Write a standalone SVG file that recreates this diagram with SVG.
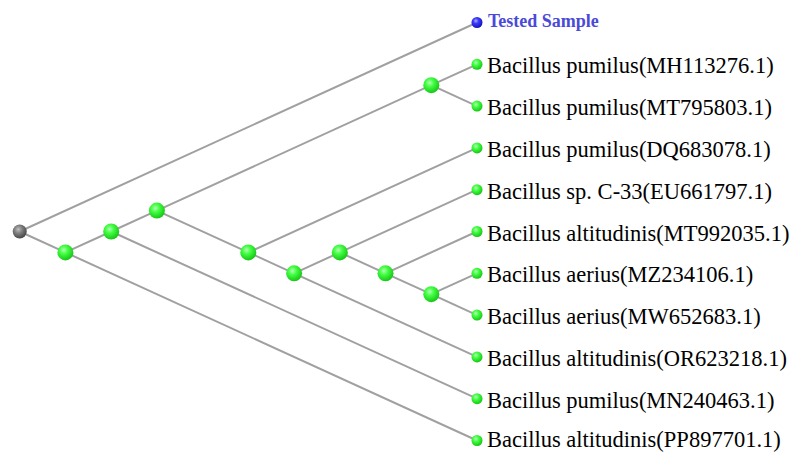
<svg xmlns="http://www.w3.org/2000/svg" width="794" height="452" viewBox="0 0 794 452">
<defs>
<radialGradient id="gG" cx="0.4" cy="0.35" r="0.7">
<stop offset="0" stop-color="#b8ffb8"/>
<stop offset="0.35" stop-color="#44ff44"/>
<stop offset="1" stop-color="#10c010"/>
</radialGradient>
<radialGradient id="gB" cx="0.4" cy="0.35" r="0.7">
<stop offset="0" stop-color="#b0b0ff"/>
<stop offset="0.35" stop-color="#3a3aff"/>
<stop offset="1" stop-color="#1010b0"/>
</radialGradient>
<radialGradient id="gK" cx="0.4" cy="0.35" r="0.7">
<stop offset="0" stop-color="#c0c0c0"/>
<stop offset="0.4" stop-color="#808080"/>
<stop offset="1" stop-color="#404040"/>
</radialGradient>
</defs>
<style>
.e{stroke:#a0a0a0;stroke-width:2;fill:none}
.n{fill:url(#gG)}
.lab{font-family:"Liberation Serif","Times New Roman",serif;font-size:22.5px;fill:#000}
.ts{font-family:"Liberation Serif","Times New Roman",serif;font-size:18px;font-weight:bold;fill:#4a4ad8}
</style>
<rect width="794" height="452" fill="#fff"/>
<g id="connectors">
<line class="e" x1="19.7" y1="231.5" x2="477" y2="22.5"/>
<line class="e" x1="19.7" y1="231.5" x2="65.4" y2="252.4"/>
<line class="e" x1="65.4" y1="252.4" x2="111.2" y2="231.5"/>
<line class="e" x1="65.4" y1="252.4" x2="477" y2="440.5"/>
<line class="e" x1="111.2" y1="231.5" x2="156.9" y2="210.6"/>
<line class="e" x1="111.2" y1="231.5" x2="477" y2="398.7"/>
<line class="e" x1="156.9" y1="210.6" x2="431.3" y2="85.2"/>
<line class="e" x1="156.9" y1="210.6" x2="248.3" y2="252.4"/>
<line class="e" x1="431.3" y1="85.2" x2="477" y2="64.3"/>
<line class="e" x1="431.3" y1="85.2" x2="477" y2="106.1"/>
<line class="e" x1="248.3" y1="252.4" x2="477" y2="147.9"/>
<line class="e" x1="248.3" y1="252.4" x2="294.1" y2="273.3"/>
<line class="e" x1="294.1" y1="273.3" x2="339.8" y2="252.4"/>
<line class="e" x1="294.1" y1="273.3" x2="477" y2="356.9"/>
<line class="e" x1="339.8" y1="252.4" x2="477" y2="189.7"/>
<line class="e" x1="339.8" y1="252.4" x2="385.5" y2="273.3"/>
<line class="e" x1="385.5" y1="273.3" x2="477" y2="231.5"/>
<line class="e" x1="385.5" y1="273.3" x2="431.3" y2="294.2"/>
<line class="e" x1="431.3" y1="294.2" x2="477" y2="273.3"/>
<line class="e" x1="431.3" y1="294.2" x2="477" y2="315.1"/>
</g>
<g id="root"><circle cx="19.7" cy="231.5" r="7" fill="url(#gK)"/></g>
<g id="nA"><circle class="n" cx="65.4" cy="252.4" r="8"/></g>
<g id="nB"><circle class="n" cx="111.2" cy="231.5" r="8"/></g>
<g id="nC"><circle class="n" cx="156.9" cy="210.6" r="8"/></g>
<g id="nI"><circle class="n" cx="431.3" cy="85.2" r="8"/></g>
<g id="nD"><circle class="n" cx="248.3" cy="252.4" r="8"/></g>
<g id="nE"><circle class="n" cx="294.1" cy="273.3" r="8"/></g>
<g id="nF"><circle class="n" cx="339.8" cy="252.4" r="8"/></g>
<g id="nG"><circle class="n" cx="385.5" cy="273.3" r="8"/></g>
<g id="nH"><circle class="n" cx="431.3" cy="294.2" r="8"/></g>
<g id="leaf0"><circle cx="477" cy="22.5" r="5.5" fill="url(#gB)"/><text class="ts" x="488" y="27">Tested Sample</text></g>
<g id="leaf1"><circle class="n" cx="477" cy="64.3" r="5.5"/><text class="lab" x="487" y="73.3">Bacillus pumilus(MH113276.1)</text></g>
<g id="leaf2"><circle class="n" cx="477" cy="106.1" r="5.5"/><text class="lab" x="487" y="115.1">Bacillus pumilus(MT795803.1)</text></g>
<g id="leaf3"><circle class="n" cx="477" cy="147.9" r="5.5"/><text class="lab" x="487" y="156.9">Bacillus pumilus(DQ683078.1)</text></g>
<g id="leaf4"><circle class="n" cx="477" cy="189.7" r="5.5"/><text class="lab" x="487" y="198.7">Bacillus sp. C-33(EU661797.1)</text></g>
<g id="leaf5"><circle class="n" cx="477" cy="231.5" r="5.5"/><text class="lab" x="487" y="240.5">Bacillus altitudinis(MT992035.1)</text></g>
<g id="leaf6"><circle class="n" cx="477" cy="273.3" r="5.5"/><text class="lab" x="487" y="282.3">Bacillus aerius(MZ234106.1)</text></g>
<g id="leaf7"><circle class="n" cx="477" cy="315.1" r="5.5"/><text class="lab" x="487" y="324.1">Bacillus aerius(MW652683.1)</text></g>
<g id="leaf8"><circle class="n" cx="477" cy="356.9" r="5.5"/><text class="lab" x="487" y="365.9">Bacillus altitudinis(OR623218.1)</text></g>
<g id="leaf9"><circle class="n" cx="477" cy="398.7" r="5.5"/><text class="lab" x="487" y="407.7">Bacillus pumilus(MN240463.1)</text></g>
<g id="leaf10"><circle class="n" cx="477" cy="440.5" r="5.5"/><text class="lab" x="487" y="446.5">Bacillus altitudinis(PP897701.1)</text></g>
</svg>
